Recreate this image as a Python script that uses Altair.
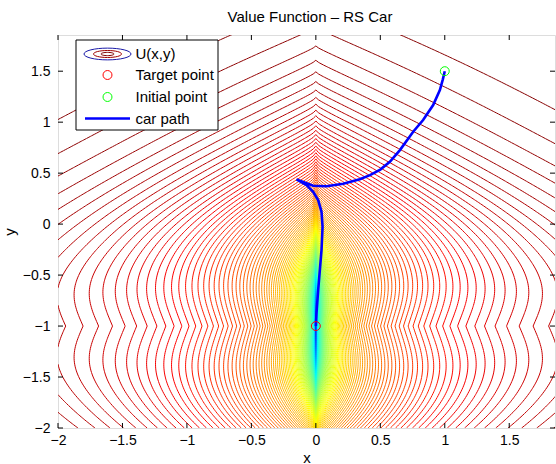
import numpy as np
import pandas as pd
import altair as alt

alt.data_transformers.disable_max_rows()

# ---------------------------------------------------------------- settings
X_DOMAIN = [-2.0, 1.855]
Y_DOMAIN = [-2.0, 1.855]
X_TICKS = [-2, -1.5, -1, -0.5, 0, 0.5, 1, 1.5]
Y_TICKS = [-2, -1.5, -1, -0.5, 0, 0.5, 1, 1.5]

TARGET_X, TARGET_Y = [0.0], [-1.0]
INITIAL_X, INITIAL_Y = [1.0], [1.5]

# value function U(x,y) = 1 - exp(-Q^SHAPE), Q = cost-to-go measured from the target
AXIS_RATE = 0.95        # cost per unit along the car's heading (vertical) ...
AXIS_CURVE = 0.06       # ... growing with distance
LATERAL_GAIN = 1.5      # sideways cost = gain*|dx|^power + slope*|dx|
LATERAL_POWER = 0.25
LATERAL_SLOPE = 0.3
GAIN_FADE = 0.5         # the manoeuvring part weakens far ahead / behind
FADE_SCALE = 1.0
CROSS = 0.4             # purely sideways displacement is the hardest ...
CROSS_BAND = 0.55       # ... within this vertical band around the target
ROOF_SLOPE = 0.55       # extra sideways cost far ahead of / behind the car
ROOF_ONSET = 1.2
SHAPE = 1.2
N_LEVELS = 150
GRID_STEP = 0.02

# car path: forward arc to the cusp, then reverse down into the target
PATH_X = [1.0, 0.985, 0.962, 0.910, 0.832, 0.755, 0.652, 0.574, 0.500, 0.420,
          0.341, 0.212, 0.083, -0.021, -0.072, -0.150,
          -0.072, -0.021, 0.018, 0.044, 0.052, 0.044, 0.031, 0.018, 0.005, 0.0]
PATH_Y = [1.5, 1.42, 1.315, 1.168, 1.021, 0.906, 0.726, 0.611, 0.535, 0.480,
          0.440, 0.395, 0.372, 0.376, 0.400, 0.439,
          0.383, 0.317, 0.236, 0.121, -0.026, -0.255, -0.451, -0.648, -0.876, -1.0]

LEGEND_LABELS = ["U(x,y)", "Target point", "Initial point", "car path"]

FONT = "Liberation Sans"
W, H = 497, 393

# ------------------------------------------------------- value function grid
n_x = int(np.ceil((X_DOMAIN[1] - X_DOMAIN[0]) / GRID_STEP)) + 1
n_y = int(np.ceil((Y_DOMAIN[1] - Y_DOMAIN[0]) / GRID_STEP)) + 1
xs = X_DOMAIN[0] + GRID_STEP * np.arange(n_x)
ys = Y_DOMAIN[0] + GRID_STEP * np.arange(n_y)
GX, GY = np.meshgrid(xs, ys)

dv = np.abs(GY - TARGET_Y[0])
du = np.abs(GX - TARGET_X[0])
along = AXIS_RATE * dv + AXIS_CURVE * dv ** 2
fade = 1.0 - GAIN_FADE * (1.0 - np.exp(-(dv / FADE_SCALE) ** 2))
side = LATERAL_GAIN * fade * du ** LATERAL_POWER + LATERAL_SLOPE * du
band = np.exp(-(dv / CROSS_BAND) ** 2)
roof = ROOF_SLOPE * du * (1.0 - np.exp(-(dv / ROOF_ONSET) ** 2))
Q = np.sqrt(np.maximum(along ** 2 + side ** 2 - CROSS * band * along * side, 0.0)) + roof
U = 1.0 - np.exp(-Q ** SHAPE)

zmin, zmax = float(U.min()), float(U.max())
levels = np.linspace(zmin, zmax, N_LEVELS + 2)[1:-1]


def jet(t):
    r = np.clip(min(4 * t - 1.5, -4 * t + 4.5), 0, 1)
    g = np.clip(min(4 * t - 0.5, -4 * t + 3.5), 0, 1)
    b = np.clip(min(4 * t + 0.5, -4 * t + 2.5), 0, 1)
    return "#%02x%02x%02x" % (int(round(r * 255)), int(round(g * 255)), int(round(b * 255)))


level_colors = [jet((lv - zmin) / (zmax - zmin)) for lv in levels]

# -------------------------------------------------------- marching squares
ny, nx = U.shape
NH = ny * (nx - 1)
jj, ii = np.meshgrid(np.arange(ny - 1), np.arange(nx - 1), indexing="ij")
E = [jj * (nx - 1) + ii,            # bottom
     NH + jj * nx + ii + 1,         # right
     (jj + 1) * (nx - 1) + ii,      # top
     NH + jj * nx + ii]             # left
CASES = {1: [(3, 0)], 2: [(0, 1)], 3: [(3, 1)], 4: [(1, 2)], 5: [(3, 0), (1, 2)],
         6: [(0, 2)], 7: [(3, 2)], 8: [(2, 3)], 9: [(0, 2)], 10: [(0, 1), (2, 3)],
         11: [(1, 2)], 12: [(1, 3)], 13: [(0, 1)], 14: [(0, 3)]}


def edge_points(eids, level):
    eids = np.asarray(eids)
    px = np.empty(len(eids))
    py = np.empty(len(eids))
    hm = eids < NH
    h = eids[hm]
    j, i = h // (nx - 1), h % (nx - 1)
    z0, z1 = U[j, i], U[j, i + 1]
    f = (level - z0) / (z1 - z0)
    px[hm] = xs[i] + f * (xs[i + 1] - xs[i])
    py[hm] = ys[j]
    v = eids[~hm] - NH
    j, i = v // nx, v % nx
    z0, z1 = U[j, i], U[j + 1, i]
    f = (level - z0) / (z1 - z0)
    px[~hm] = xs[i]
    py[~hm] = ys[j] + f * (ys[j + 1] - ys[j])
    return px, py


rows_x, rows_y, rows_g, rows_o, rows_l = [], [], [], [], []
gid = 0
for li, level in enumerate(levels):
    above = U > level
    case = (above[:-1, :-1].astype(np.int16) + 2 * above[:-1, 1:]
            + 4 * above[1:, 1:] + 8 * above[1:, :-1])
    A, B = [], []
    for cs, pairs in CASES.items():
        m = case == cs
        if not m.any():
            continue
        for p, q in pairs:
            A.append(E[p][m])
            B.append(E[q][m])
    if not A:
        continue
    A = np.concatenate(A).tolist()
    B = np.concatenate(B).tolist()
    nbr = {}
    for a, b in zip(A, B):
        nbr.setdefault(a, []).append(b)
        nbr.setdefault(b, []).append(a)
    seen = set()
    starts = [e for e, n in nbr.items() if len(n) == 1] + list(nbr)
    for s in starts:
        if s in seen:
            continue
        chain = [s]
        seen.add(s)
        cur = s
        while True:
            nxt = None
            for e in nbr[cur]:
                if e not in seen:
                    nxt = e
                    break
            if nxt is None:
                if len(chain) > 2 and s in nbr[cur]:
                    chain.append(s)
                break
            chain.append(nxt)
            seen.add(nxt)
            cur = nxt
        if len(chain) < 2:
            continue
        px, py = edge_points(chain, level)
        rows_x.append(px)
        rows_y.append(py)
        rows_g.append(np.full(len(chain), gid))
        rows_o.append(np.arange(len(chain)))
        rows_l.append(np.full(len(chain), li))
        gid += 1

contour_df = pd.DataFrame({
    "x": np.round(np.concatenate(rows_x), 4),
    "y": np.round(np.concatenate(rows_y), 4),
    "g": np.concatenate(rows_g),
    "o": np.concatenate(rows_o),
    "lv": np.concatenate(rows_l),
})

path_df = pd.DataFrame({"x": PATH_X, "y": PATH_Y, "o": np.arange(len(PATH_X))})
target_df = pd.DataFrame({"x": TARGET_X, "y": TARGET_Y})
initial_df = pd.DataFrame({"x": INITIAL_X, "y": INITIAL_Y})
xt_df = pd.DataFrame({"x": X_TICKS})
yt_df = pd.DataFrame({"y": Y_TICKS})
one = pd.DataFrame({"k": [0]})

# ------------------------------------------------------------------- chart
xscale = alt.Scale(domain=X_DOMAIN, nice=False, zero=False)
yscale = alt.Scale(domain=Y_DOMAIN, nice=False, zero=False)

x_axis = alt.Axis(values=X_TICKS, format="~g", title="x", ticks=False, tickSize=0,
                  domain=False, grid=False, labelFont=FONT, labelFontSize=14,
                  labelColor="black", labelPadding=5, labelFlush=False, labelOverlap=False,
                  titleFont=FONT, titleFontSize=15, titleFontWeight="normal",
                  titleColor="black", titleY=34, titleBaseline="alphabetic")
y_axis = alt.Axis(values=Y_TICKS, format="~g", title="y", ticks=False, tickSize=0,
                  domain=False, grid=False, labelFont=FONT, labelFontSize=14,
                  labelColor="black", labelPadding=8, labelFlush=False, labelOverlap=False,
                  titleFont=FONT, titleFontSize=15, titleFontWeight="normal",
                  titleColor="black", titleX=-44, titleY=H / 2, titleBaseline="alphabetic")

X_ENC = alt.X("x:Q", scale=xscale, axis=x_axis)
Y_ENC = alt.Y("y:Q", scale=yscale, axis=y_axis)

contours = alt.Chart(contour_df).mark_line(strokeWidth=1, clip=True).encode(
    x=X_ENC, y=Y_ENC,
    detail="g:N",
    order="o:Q",
    color=alt.Color("lv:O", scale=alt.Scale(domain=list(range(N_LEVELS)), range=level_colors),
                    legend=None),
)

car_path = alt.Chart(path_df).mark_line(color="#0000ff", strokeWidth=2.6, clip=True).encode(
    x=X_ENC, y=Y_ENC, order="o:Q")

target_pt = alt.Chart(target_df).mark_point(shape="circle", filled=False, color="#ff0000",
                                            size=80, strokeWidth=1, opacity=1).encode(x=X_ENC, y=Y_ENC)
initial_pt = alt.Chart(initial_df).mark_point(shape="circle", filled=False, color="#00ff00",
                                              size=80, strokeWidth=1, opacity=1).encode(x=X_ENC, y=Y_ENC)

TICK = 5
x_ticks_bottom = alt.Chart(xt_df).mark_rule(color="black", strokeWidth=1).encode(
    x=X_ENC, y=alt.value(H), y2=alt.value(H - TICK))
x_ticks_top = alt.Chart(xt_df).mark_rule(color="black", strokeWidth=1).encode(
    x=X_ENC, y=alt.value(0), y2=alt.value(TICK))
y_ticks_left = alt.Chart(yt_df).mark_rule(color="black", strokeWidth=1).encode(
    y=Y_ENC, x=alt.value(0), x2=alt.value(TICK))
y_ticks_right = alt.Chart(yt_df).mark_rule(color="black", strokeWidth=1).encode(
    y=Y_ENC, x=alt.value(W), x2=alt.value(W - TICK))

title = alt.Chart(one).mark_text(text="Value Function \u2013 RS Car", font=FONT, fontSize=15,
                                 color="black", align="center", baseline="alphabetic").encode(
    x=alt.value(252), y=alt.value(-13.5))

# legend box (pixel layout inside the plot area)
LX0, LY0, LX1, LY1 = 18, 5, 160, 95
ICON_X = 49.5
TEXT_X = 77.5
ROW_Y = [19, 40, 62, 83.5]
ELLIPSE = "M -1 0 A 1 0.25 0 1 1 1 0 A 1 0.25 0 1 1 -1 0 Z"

legend_layers = [alt.Chart(one).mark_rect(fill="white", stroke="black", strokeWidth=1).encode(
    x=alt.value(LX0), x2=alt.value(LX1), y=alt.value(LY0), y2=alt.value(LY1))]
for size, col in [(2209, "#1a1aa8"), (784, "#a00000"), (169, "#800000")]:
    legend_layers.append(alt.Chart(one).mark_point(shape=ELLIPSE, filled=False, strokeWidth=1,
                                                   color=col, size=size, opacity=1).encode(
        x=alt.value(ICON_X), y=alt.value(ROW_Y[0])))
legend_layers.append(alt.Chart(one).mark_point(shape="circle", filled=False, color="#ff0000",
                                               size=80, strokeWidth=1, opacity=1).encode(
    x=alt.value(ICON_X), y=alt.value(ROW_Y[1])))
legend_layers.append(alt.Chart(one).mark_point(shape="circle", filled=False, color="#00ff00",
                                               size=80, strokeWidth=1, opacity=1).encode(
    x=alt.value(ICON_X), y=alt.value(ROW_Y[2])))
legend_layers.append(alt.Chart(one).mark_rule(color="#0000ff", strokeWidth=2.6).encode(
    x=alt.value(27), x2=alt.value(72), y=alt.value(ROW_Y[3])))
for label, ry in zip(LEGEND_LABELS, ROW_Y):
    legend_layers.append(alt.Chart(one).mark_text(text=label, font=FONT, fontSize=15,
                                                  color="black", align="left",
                                                  baseline="middle").encode(
        x=alt.value(TEXT_X), y=alt.value(ry)))

chart = alt.layer(
    contours, car_path, target_pt, initial_pt,
    x_ticks_bottom, x_ticks_top, y_ticks_left, y_ticks_right,
    title, *legend_layers,
).properties(
    width=W, height=H,
    autosize=alt.AutoSizeParams(type="none"),
    padding={"left": 58, "top": 35, "right": 1, "bottom": 36},
).configure_view(
    stroke="black", strokeWidth=1
).configure(background="white")

chart.save("out.html", embed_options={"renderer": "svg", "actions": False})
